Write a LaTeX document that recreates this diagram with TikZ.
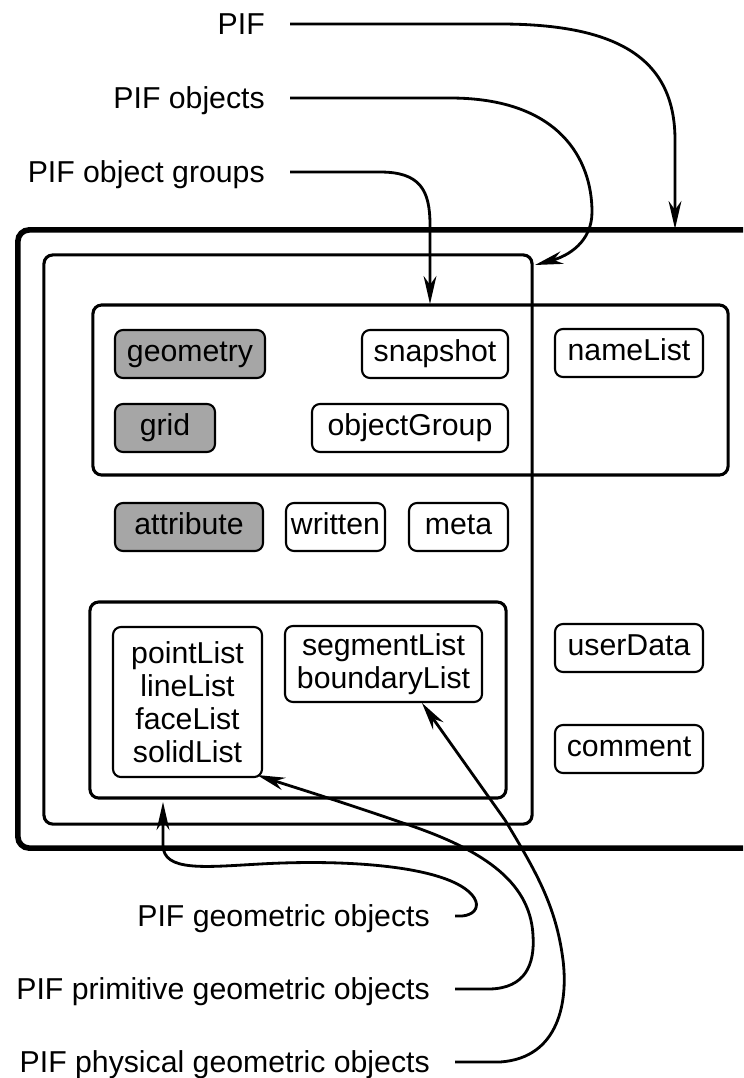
\documentclass[tikz,border=0pt]{standalone}
\usepackage{fontspec}
\setmainfont{Liberation Sans}
\usetikzlibrary{arrows.meta}

\begin{document}
\begin{tikzpicture}[x=0.025cm, y=-0.025cm,
    every node/.style={font=\fontsize{21.5}{23.5}\selectfont},
    container/.style={draw, line width=2.2pt, rounded corners=0.22cm, inner sep=0pt},
    box/.style={draw, line width=1.5pt, rounded corners=0.2cm, inner sep=0pt},
    item/.style={box, minimum height=1.2cm, text height=15.4pt, text depth=4.5pt},
    greyitem/.style={item, fill=black!35},
    tag/.style={anchor=east, inner sep=0pt, inner xsep=0.625cm, text height=15.4pt, text depth=0pt},
    arr/.style={line width=2pt, -{Stealth[length=0.7cm, width=0.32cm, inset=0.22cm]}}]
    \useasboundingbox (0,0) rectangle (743,1078);
    \clip (0,0) rectangle (743,1078);
    % nested frames
    \node[container, line width=4pt, rounded corners=0.28cm, minimum width=19.55cm, minimum height=15.45cm] (pifbox) at (409,539) {};
    \node[container, minimum width=12.2cm, minimum height=14.225cm] (objbox) at (288,539.5) {};
    \node[container, minimum width=15.875cm, minimum height=4.25cm] (groupbox) at (410.5,390) {};
    \node[container, minimum width=10.4cm, minimum height=4.9cm] (geombox) at (298,700) {};
    % object group members
    \node[greyitem, minimum width=3.75cm] (geometry) at (190,354) {geometry};
    \node[item, minimum width=3.65cm] (snapshot) at (435,354) {snapshot};
    \node[item, minimum width=3.7cm] (namelist) at (629,353) {nameList};
    \node[greyitem, minimum width=2.5cm] (grid) at (165,428) {grid};
    \node[item, minimum width=4.9cm] (objgroup) at (410,428) {objectGroup};
    % objects
    \node[greyitem, minimum width=3.7cm] (attribute) at (189,527) {attribute};
    \node[item, minimum width=2.475cm] (written) at (335.5,527) {written};
    \node[item, minimum width=2.475cm] (meta) at (458.5,527) {meta};
    % geometric objects
    \node[box, align=center, minimum width=3.725cm, minimum height=3.75cm] (pointlist) at (187.5,702) {pointList\\lineList\\faceList\\solidList};
    \node[box, align=center, minimum width=4.925cm, minimum height=1.9cm] (seglist) at (383.5,664) {segmentList\\boundaryList};
    \node[item, minimum width=3.7cm] (userdata) at (629,648) {userData};
    \node[item, minimum width=3.7cm] (comment) at (629,749) {comment};
    % captions
    \node[tag] (pif) at (290,24) {PIF};
    \node[tag] (pifobj) at (290,98) {PIF objects};
    \node[tag] (pifgrp) at (290,172) {PIF object groups};
    \node[tag] (geo) at (455,916) {PIF geometric objects};
    \node[tag] (prim) at (455,989) {PIF primitive geometric objects};
    \node[tag] (phys) at (455,1062) {PIF physical geometric objects};
    % arrow ends
    \coordinate (pifin) at (675,229);
    \coordinate (objin) at (535,265);
    \coordinate (grpin) at (430,304);
    \coordinate (geoin) at (163,802);
    \coordinate (primin) at (257,775);
    \coordinate (physin) at (422,703);
    \draw[arr] (pif.east) -- (500,24) .. controls (620,24) and (675,60) .. (675,140) -- (pifin);
    \draw[arr] (pifobj.east) -- (450,98) .. controls (560,98) and (592,160) .. (592,212) .. controls (592,242) and (568,256) .. (objin);
    \draw[arr] (pifgrp.east) -- (380,172) .. controls (420,172) and (430,190) .. (430,225) -- (grpin);
    \draw[arr] (geo.east) -- (462,916) .. controls (484,914) and (484,891) .. (440,877) .. controls (400,864) and (330,860) .. (260,864) .. controls (205,867) and (163,872) .. (163,845) -- (geoin);
    \draw[arr] (prim.east) -- (490,989) .. controls (525,988) and (535,965) .. (533,935) .. controls (530,880) and (480,848) .. (400,822) .. controls (330,798) and (290,786) .. (primin);
    \draw[arr] (phys.east) -- (500,1062) .. controls (560,1058) and (568,1000) .. (563,960) .. controls (556,905) and (535,870) .. (505,820) -- (physin);
\end{tikzpicture}
\end{document}
